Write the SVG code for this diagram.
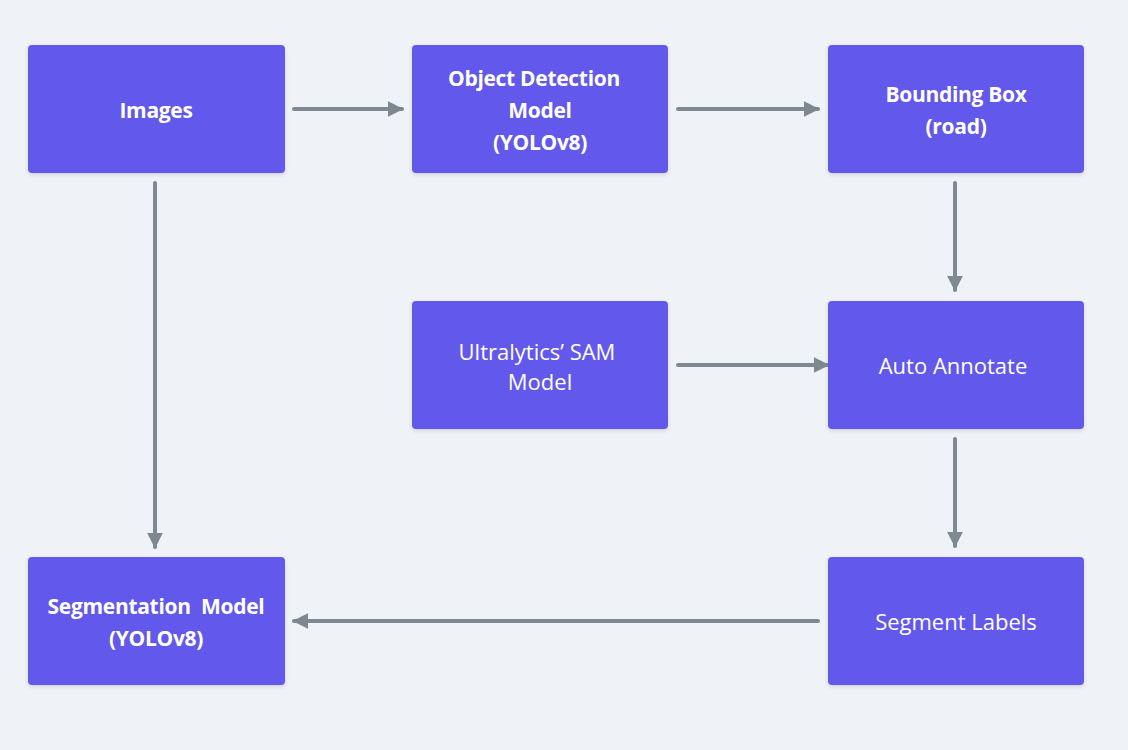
<svg xmlns="http://www.w3.org/2000/svg" width="1128" height="750" viewBox="0 0 1128 750">
<style>
.box{fill:#6259EB;filter:url(#sh)}
.t{font-family:"Open Sans","Liberation Sans",sans-serif;font-size:21px;fill:#ffffff;text-anchor:middle}
.b{font-weight:700;letter-spacing:-0.3px}
.r{font-weight:500;font-size:22px}
.c{stroke:#7D8891;stroke-width:4;stroke-linecap:round;fill:none;marker-end:url(#ah)}
</style>
<defs>
<filter id="sh" x="-10%" y="-10%" width="120%" height="130%">
<feDropShadow dx="0" dy="2" stdDeviation="2" flood-color="#000" flood-opacity="0.12"/>
</filter>
<marker id="ah" viewBox="0 0 10 10" refX="9" refY="5" markerWidth="4" markerHeight="4.2" markerUnits="strokeWidth" orient="auto">
<path d="M0,0 L10,5 L0,10 z" fill="#7D8891"/>
</marker>
</defs>
<rect width="1128" height="750" fill="#EFF3F7"/>
<g id="connectors">
<line class="c" x1="294" y1="109" x2="402" y2="109"/>
<line class="c" x1="678" y1="109" x2="818" y2="109"/>
<line class="c" x1="955" y1="183" x2="955" y2="290"/>
<line class="c" x1="678" y1="365" x2="828" y2="365"/>
<line class="c" x1="955" y1="439" x2="955" y2="546"/>
<line class="c" x1="818" y1="621" x2="294" y2="621"/>
<line class="c" x1="155" y1="183" x2="155" y2="547"/>
</g>
<g id="images"><rect class="box" x="28" y="45" width="257" height="128" rx="4"/><text class="t b" x="156" y="118">Images</text></g>
<g id="odm"><rect class="box" x="412" y="45" width="256" height="128" rx="4"/><text class="t b" x="534" y="86">Object Detection</text><text class="t b" x="540" y="118">Model</text><text class="t b" x="540" y="150">(YOLOv8)</text></g>
<g id="bbox"><rect class="box" x="828" y="45" width="256" height="128" rx="4"/><text class="t b" x="956" y="102">Bounding Box</text><text class="t b" x="956" y="134">(road)</text></g>
<g id="sam"><rect class="box" x="412" y="301" width="256" height="128" rx="4"/><text class="t r" x="537" y="360">Ultralytics’ SAM</text><text class="t r" x="540" y="390">Model</text></g>
<g id="auto"><rect class="box" x="828" y="301" width="256" height="128" rx="4"/><text class="t r" x="953" y="374">Auto Annotate</text></g>
<g id="seglabels"><rect class="box" x="828" y="557" width="256" height="128" rx="4"/><text class="t r" x="956" y="630">Segment Labels</text></g>
<g id="segmodel"><rect class="box" x="28" y="557" width="257" height="128" rx="4"/><text class="t b" x="156" y="614" xml:space="preserve">Segmentation  Model</text><text class="t b" x="156" y="646">(YOLOv8)</text></g>
</svg>
